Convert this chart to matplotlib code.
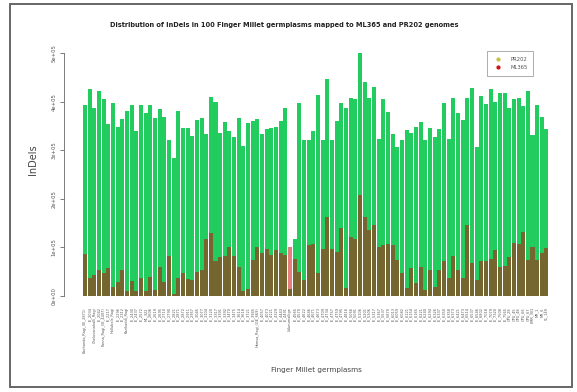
import matplotlib.pyplot as plt
import numpy as np
from matplotlib.lines import Line2D
from matplotlib.patches import Rectangle

# InDel counts per germplasm (x 1e5)
pr202 = [3.92, 4.25, 3.86, 4.22, 4.05, 3.53, 3.98, 3.47, 3.64, 3.81,
         3.92, 3.40, 3.92, 3.76, 3.92, 3.66, 3.85, 3.68, 3.20, 2.83,
         3.81, 3.45, 3.45, 3.30, 3.62, 3.67, 3.33, 4.09, 3.99, 3.36,
         3.59, 3.40, 3.28, 3.66, 3.09, 3.55, 3.61, 3.65, 3.33, 3.43,
         3.45, 3.47, 3.61, 3.86, 0.15, 1.17, 3.98, 3.21, 3.21, 3.40,
         4.14, 3.20, 4.46, 3.20, 3.60, 3.98, 3.86, 4.08, 4.05, 5.01,
         4.40, 4.07, 4.31, 3.24, 4.05, 3.79, 3.33, 3.07, 3.20, 3.42,
         3.36, 3.48, 3.57, 3.22, 3.45, 3.28, 3.43, 3.98, 3.24, 4.07,
         3.76, 3.62, 4.08, 4.27, 3.07, 4.12, 3.95, 4.25, 4.00, 4.17,
         4.18, 3.86, 4.05, 4.07, 3.91, 4.22, 3.31, 3.93, 3.69, 3.43]
ml365 = [0.86, 0.38, 0.43, 0.53, 0.47, 0.58, 0.19, 0.29, 0.53, 0.11,
         0.31, 0.11, 0.38, 0.11, 0.40, 0.12, 0.60, 0.29, 0.82, 0.05,
         0.38, 0.47, 0.36, 0.33, 0.50, 0.53, 1.18, 1.30, 0.71, 0.81,
         0.82, 1.01, 0.82, 0.60, 0.11, 0.14, 0.74, 1.01, 0.88, 0.96,
         0.84, 0.95, 0.88, 0.84, 1.01, 0.77, 0.50, 0.33, 1.05, 1.08,
         0.47, 0.96, 1.63, 0.96, 0.91, 1.39, 0.16, 1.21, 1.18, 2.08,
         1.62, 1.36, 1.46, 1.00, 1.05, 1.08, 1.05, 0.74, 0.47, 0.16,
         0.57, 0.27, 0.60, 0.12, 0.53, 0.19, 0.53, 0.71, 0.38, 0.82,
         0.53, 0.38, 1.46, 0.67, 0.33, 0.71, 0.71, 0.77, 0.95, 0.60,
         0.62, 0.81, 1.10, 1.08, 1.32, 0.74, 1.01, 0.74, 0.88, 0.98]

germplasms = [
    "Kachanda_Ragi_(IE_2871)", "IE_2034", "Cheluvanahalli_Ragi", "IE_2042",
    "Panna_Ragi_(IE_4497)", "IE_2217", "Hullubele_Ragi", "IE_2296", "IE_2312",
    "Karikaddi_Ragi", "IE_2430", "IE_2437", "IE_2572", "ML_322", "IE_2606",
    "IE_2619", "IE_2695", "IE_2710", "IE_2790", "IE_2821", "IE_2871", "IE_2872",
    "IE_2911", "IE_2957", "IE_3045", "IE_3077", "IE_3104", "IE_3120",
    "IE_3317", "IE_3391", "IE_3392", "IE_3470", "IE_3475", "IE_3614",
    "IE_3618", "IE_3721", "IE_3945", "Hamsa_Ragi_(GE_669)", "IE_4057",
    "IE_4073", "IE_4121", "IE_4329", "IE_4443", "IE_4491", "Udurumallige",
    "IE_4565", "IE_4570", "IE_4622", "IE_4646", "IE_4671", "IE_4673",
    "IE_4709", "IE_4734", "IE_4757", "IE_4759", "IE_4795", "IE_4816",
    "IE_5066", "IE_5091", "IE_5106", "IE_5201", "IE_5306", "IE_5317",
    "IE_5367", "IE_5537", "IE_5870", "IE_6013", "IE_6059", "IE_6082",
    "IE_6121", "IE_6154", "IE_6165", "IE_6221", "IE_6240", "IE_6294",
    "IE_6326", "IE_6337", "IE_6350", "IE_6358", "IE_6373", "IE_6421",
    "IE_6473", "IE_6514", "IE_6537", "IE_6546", "IE_6802", "IE_7018",
    "IE_7079", "IE_7320", "IE_7508", "IE_7565", "GPU_28", "GPU_45",
    "GPU_48", "GPU_66", "GPU_67", "KMR_301", "MR_1", "MR_6", "VL_149"]

y_ticks = [0, 1e5, 2e5, 3e5, 4e5, 5e5]
y_labels = ["0e+00", "1e+05", "2e+05", "3e+05", "4e+05", "5e+05"]

W, H = 577, 392
fig = plt.figure(figsize=(W / 100, H / 100), dpi=100)
ax = fig.add_axes([64 / W, 1 - 296 / H, (560 - 64) / W, (296 - 45) / H])

x = np.arange(len(pr202))
pr = np.array(pr202) * 1e5
ml = np.array(ml365) * 1e5
ax.bar(x, pr, width=0.86, color='#22cc5e', linewidth=0)
ax.bar(x, ml, width=0.86, color='#c80000', alpha=0.5, linewidth=0)

ax.set_xlim(-4.5, 101.9)
ax.set_ylim(0, 251 / 48.6 * 1e5)
for s in ['top', 'right', 'bottom']:
    ax.spines[s].set_visible(False)
ax.spines['left'].set_bounds(0, 5e5)
ax.spines['left'].set_color('#666666')
ax.spines['left'].set_linewidth(0.6)

ax.set_yticks(y_ticks, y_labels, rotation=90, va='center', fontsize=3.8, color='#555555')
ax.tick_params(axis='y', length=3, width=0.6, color='#666666', pad=2.5)
ax.set_xticks(x, germplasms, rotation=90, fontsize=2.5, color='#555555')
ax.tick_params(axis='x', length=0, pad=8)

fig.text(284 / W, 1 - 25 / H,
         "Distribution of InDels in 100 Finger Millet germplasms mapped to ML365 and PR202 genomes",
         ha='center', va='center', fontsize=4.8, fontweight='bold', color='#222222')
fig.text(33 / W, 1 - 160 / H, "InDels", rotation=90, ha='center', va='center',
         fontsize=7, color='#444444')
fig.text(316 / W, 1 - 370 / H, "Finger Millet germplasms", ha='center', va='center',
         fontsize=5.2, color='#444444')

handles = [Line2D([], [], marker='o', ls='', color='#c8c040', markersize=2),
           Line2D([], [], marker='o', ls='', color='#d01010', markersize=2)]
leg = ax.legend(handles, ["PR202", "ML365"], loc='upper left',
                bbox_to_anchor=(0.853, 0.975), fontsize=3.8, frameon=True,
                fancybox=False, edgecolor='#888888', borderpad=1.0,
                handletextpad=1.5, labelspacing=0.7, borderaxespad=0)
leg.get_frame().set_linewidth(0.6)
for t in leg.get_texts():
    t.set_color('#555555')

# outer frame of the panel
fig.patches.append(Rectangle((10 / W, 1 - 387 / H), 562 / W, 383 / H,
                             transform=fig.transFigure, fill=False,
                             edgecolor='#666666', linewidth=1.4))

fig.savefig("out.png", dpi=100)
